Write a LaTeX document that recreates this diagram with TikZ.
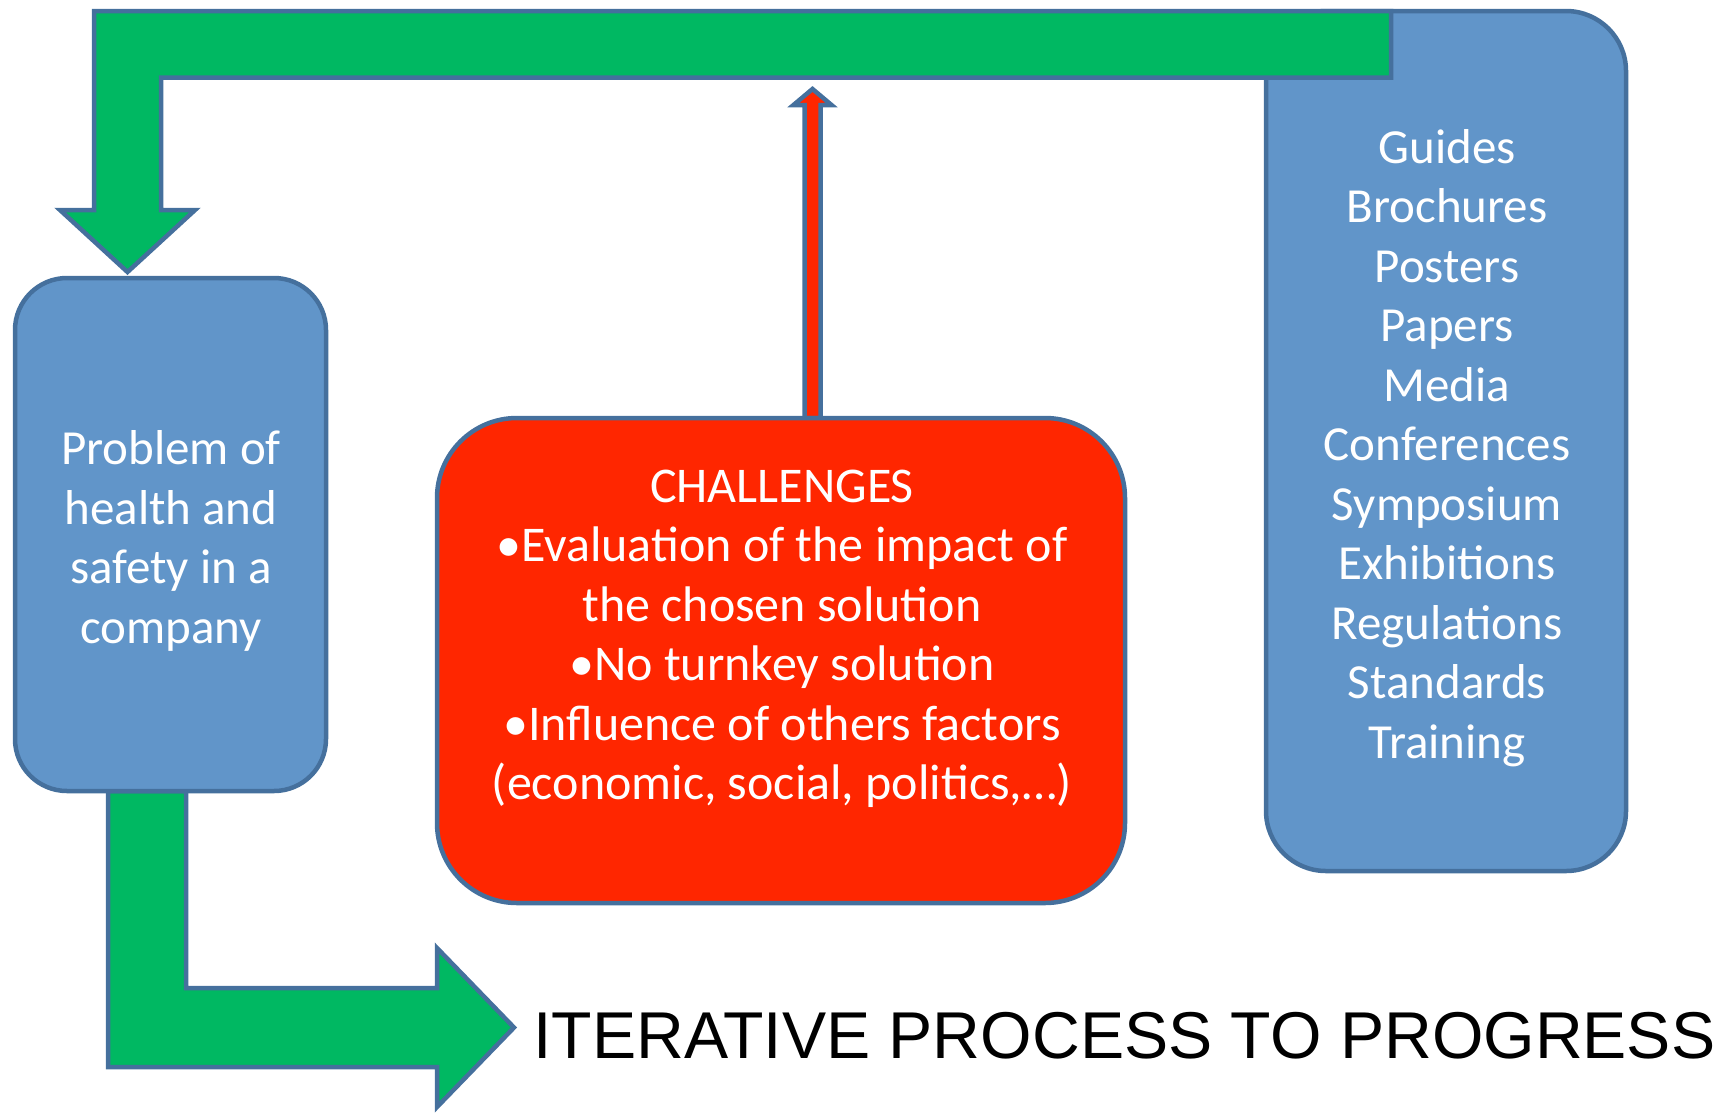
\documentclass[tikz,border=0pt]{standalone}
\usepackage{fontspec}
\setmainfont{Carlito}
\newfontfamily\arialfont{Liberation Sans}
\definecolor{arrowgreen}{HTML}{00B862}
\definecolor{boxblue}{HTML}{6195C9}
\definecolor{bordc}{HTML}{45709D}
\definecolor{boxred}{HTML}{FF2600}
\begin{document}
\begin{tikzpicture}[x=1pt,y=-1pt,
  outline/.style={draw=bordc, line width=4.5pt, line join=miter},
  bluebox/.style={outline, fill=boxblue, rectangle, inner sep=0pt},
  redbox/.style={outline, fill=boxred, rectangle, inner sep=0pt},
  greenarrow/.style={outline, fill=arrowgreen},
  redarrow/.style={outline, fill=boxred},
  boxtext/.style={text=white, align=center, inner sep=0pt, anchor=base,
    font=\fontsize{49}{59.5}\selectfont}]
\useasboundingbox (0,0) rectangle (1724,1112);
% right box (resources)
\node[bluebox, minimum width=360pt, minimum height=860pt, rounded corners=60pt] (res) at (1446,441) {};
% top green arrow back to the problem
\draw[greenarrow] (94,11) -- (1391,11) -- (1391,77.5) -- (161,77.5) -- (161,210)
  -- (195,210) -- (127.5,272) -- (60,210) -- (94,210) -- cycle;
% bottom green arrow to progress
\draw[greenarrow] (108,791) -- (186,791) -- (186,988) -- (437,988) -- (437,948)
  -- (514,1027.5) -- (437,1107) -- (437,1067) -- (108,1067) -- cycle;
% left box (problem)
\node[bluebox, minimum width=311pt, minimum height=513pt, rounded corners=52pt] (prob) at (170.5,534.5) {};
% thin red arrow up from challenges
\draw[redarrow] (804.5,418) -- (804.5,105) -- (793.5,105) -- (812.5,89)
  -- (831.5,105) -- (820.5,105) -- (820.5,418) -- cycle;
% red box (challenges)
\node[redbox, minimum width=688pt, minimum height=485pt, rounded corners=80pt] (chal) at (781,660.5) {};
% texts (anchor base = baseline of the last line)
\node[boxtext] (probtxt) at (171,643) {Problem of\\health and\\safety in a\\company};
\node[boxtext] (restxt) at (1447,758) {Guides\\Brochures\\Posters\\Papers\\Media\\Conferences\\Symposium\\Exhibitions\\Regulations\\Standards\\Training};
\node[boxtext, font=\fontsize{50}{59.5}\selectfont] (chaltxt) at (782,799.5) {CHALLENGES\\•Evaluation of the impact of\\the chosen solution\\•No turnkey solution\\•Influence of others factors\\(economic, social, politics,…)};
\node[anchor=base west, inner sep=0pt, font=\arialfont\fontsize{66.2}{70}\selectfont] (iter) at (533,1058) {ITERATIVE PROCESS TO PROGRESS};
\end{tikzpicture}
\end{document}
